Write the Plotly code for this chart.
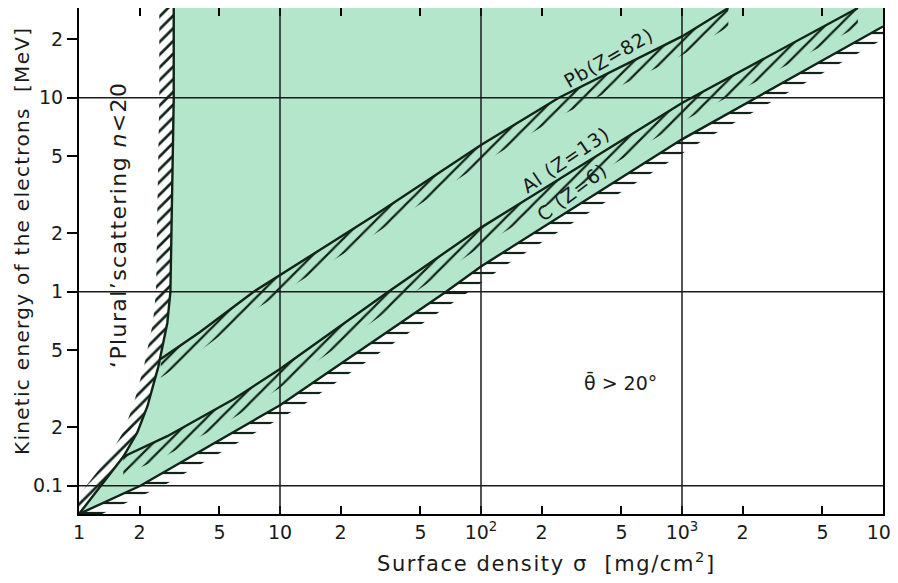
import numpy as np
import plotly.graph_objects as go

# boundary for 'plural' scattering (n < 20)
left_x = [1.0, 1.32, 1.66, 1.95, 2.19, 2.48, 2.75, 2.85, 2.96, 2.96]
left_y = [0.0715, 0.104, 0.141, 0.188, 0.257, 0.41, 0.69, 1.0, 10, 30]

# mean scattering angle = 20 deg, per material
pb_x = [2.55, 4.0, 7.4, 10, 30, 100, 244, 1000, 1700]
pb_y = [0.45, 0.62, 1.0, 1.22, 2.5, 5.7, 10, 20.7, 29]

al_x = [1.66, 2.75, 5.9, 10, 34.6, 100, 1000, 7500]
al_y = [0.141, 0.18, 0.28, 0.40, 1.0, 2.14, 9.4, 29]

c_x = [1, 2.02, 10, 67, 100, 1000, 10000]
c_y = [0.0715, 0.1, 0.26, 1.0, 1.35, 6.1, 23.3]

x_ticks = [1, 2, 5, 10, 20, 50, 100, 200, 500, 1000, 2000, 5000, 10000]
x_ticktext = ["1", "2", "5", "10", "2", "5", "10<sup>2</sup>", "2", "5",
              "10<sup>3</sup>", "2", "5", "10<sup>4</sup>"]
y_ticks = [0.1, 0.2, 0.5, 1, 2, 5, 10, 20]
y_ticktext = ["0.1", "2", "5", "1", "2", "5", "10", "2"]
grid_x = [10, 100, 1000]
grid_y = [0.1, 1, 10]

GREEN = "#b4e6cb"
INK = "#102418"
FONT = "DejaVu Sans"

fig = go.Figure()

# green region: between plural-scattering boundary and the C line
reg_x = left_x + [c_x[-1]] + c_x[::-1]
reg_y = left_y + [left_y[-1]] + c_y[::-1]
fig.add_trace(go.Scatter(x=reg_x, y=reg_y, fill="toself", fillcolor=GREEN,
                         line=dict(width=0), mode="lines", hoverinfo="skip"))


def hatch_band(xs, ys, xs2, ys2, shape, size, solidity=0.3):
    fig.add_trace(go.Scatter(
        x=list(xs) + list(xs2)[::-1], y=list(ys) + list(ys2)[::-1],
        fill="toself", fillcolor="rgba(0,0,0,0)", mode="lines",
        line=dict(width=0), hoverinfo="skip",
        fillpattern=dict(shape=shape, size=size, solidity=solidity,
                         fgcolor=INK, fgopacity=1, bgcolor="rgba(0,0,0,0)")))


# hatching
hatch_band(left_x, left_y, [v / 1.18 for v in left_x], left_y, "/", 9, 0.3)
hatch_band(pb_x, pb_y, pb_x, [v / 1.25 for v in pb_y], "/", 10, 0.22)
hatch_band(al_x, al_y, al_x, [v / 1.25 for v in al_y], "/", 10, 0.22)
hatch_band(c_x, c_y, [v * 1.3 for v in c_x], c_y, "-", 10, 0.22)

for xs, ys in [(left_x, left_y), (pb_x, pb_y), (al_x, al_y), (c_x, c_y)]:
    fig.add_trace(go.Scatter(x=xs, y=ys, mode="lines",
                             line=dict(color=INK, width=2.4), hoverinfo="skip"))

shapes = []
for g in grid_x:
    shapes.append(dict(type="line", xref="x", yref="paper", x0=g, x1=g,
                       y0=0, y1=1, line=dict(color="#1b1b1b", width=1.5)))
for g in grid_y:
    shapes.append(dict(type="line", xref="paper", yref="y", y0=g, y1=g,
                       x0=0, x1=1, line=dict(color="#1b1b1b", width=1.5)))

# page has an 8px body margin, so the figure is a bit smaller than the window
OFF = 8
W, H = 890, 575
L, R, T, B = 71, 15, 0, 69
pw, ph = W - L - R, H - T - B


def px(xp, yp):
    # screen pixel -> paper coords
    return (xp - OFF - L) / pw, (H - B - (yp - OFF)) / ph


def spaced(s, ls):
    return f'<span style="letter-spacing:{ls}px">{s}</span>'


annots = []
for text, (ax_, ay_), ang, size in [
    (spaced("Pb(Z=82)", 1), (608, 58), -30, 19),
    (spaced("Al (Z=13)", 1), (565, 160), -34, 19),
    (spaced("C (Z=6)", 1), (572, 192), -37, 19),
    ("θ\u0304 > 20°", (620, 383), 0, 19),
    (spaced("\u2018Plural\u2019scattering <i>n</i><20", 1.4), (119, 225), -90, 22),
    (spaced("Surface density σ  [mg/cm<sup>2</sup>]", 1.6), (546, 562), 0, 21),
    (spaced("Kinetic energy of the electrons  [MeV]", 1.3), (22, 241), -90, 20),
]:
    xp, yp = px(ax_, ay_)
    annots.append(dict(text=text, x=xp, y=yp, xref="paper", yref="paper",
                       xanchor="center", yanchor="middle",
                       showarrow=False, textangle=ang,
                       font=dict(size=size, color="#1a1a1a", family=FONT)))

fig.update_layout(
    width=W, height=H,
    margin=dict(l=L, r=R, t=T, b=B, autoexpand=False),
    plot_bgcolor="white", paper_bgcolor="white",
    showlegend=False,
    shapes=shapes,
    annotations=annots,
    font=dict(family=FONT, size=19, color="#1a1a1a"),
)
fig.update_xaxes(
    type="log", range=[0, 4], tickvals=x_ticks, ticktext=x_ticktext,
    ticks="inside", ticklen=8, tickwidth=1.5, tickcolor="black",
    showgrid=False, zeroline=False, showline=True, linewidth=2, linecolor="black",
    mirror="ticks", automargin=False, ticklabeloverflow="allow",
)
fig.update_yaxes(
    type="log", range=[np.log10(0.0715), np.log10(29)], tickvals=y_ticks, ticktext=y_ticktext,
    ticks="outside", ticklen=10, tickwidth=1.5, tickcolor="black",
    showgrid=False, zeroline=False, showline=True, linewidth=2, linecolor="black",
    mirror=True, automargin=False, ticklabeloverflow="allow",
)

fig.write_html("out.html")
